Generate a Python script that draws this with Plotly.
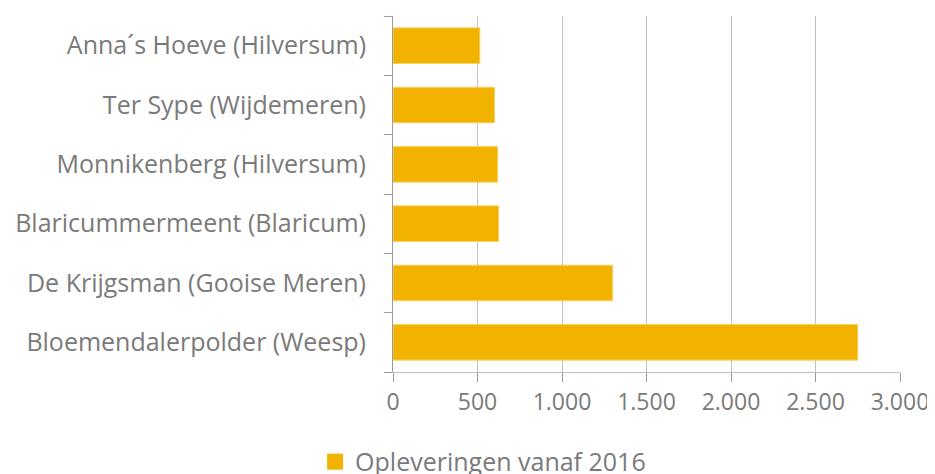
import plotly.graph_objects as go

categories = [
    "Bloemendalerpolder (Weesp)",
    "De Krijgsman (Gooise Meren)",
    "Blaricummermeent (Blaricum)",
    "Monnikenberg (Hilversum)",
    "Ter Sype (Wijdemeren)",
    "Anna´s Hoeve (Hilversum)",
]
values = [2750, 1300, 625, 619, 601, 514]
series_name = "Opleveringen vanaf 2016"
tick_vals = [0, 500, 1000, 1500, 2000, 2500, 3000]
tick_text = ["0", "500", "1.000", "1.500", "2.000", "2.500", "3.000"]

FONT = "Open Sans"
GREY = "#7a7a7a"
BAR = "#F1B300"

fig = go.Figure()
fig.add_trace(
    go.Bar(
        x=values,
        y=categories,
        orientation="h",
        name=series_name,
        marker=dict(color=BAR, line=dict(color="#F6D36A", width=1)),
        showlegend=False,
    )
)
# legend entry with a larger square swatch
fig.add_trace(
    go.Scatter(
        x=[None],
        y=[None],
        mode="markers",
        name=series_name,
        marker=dict(symbol="square", size=17, color=BAR),
        showlegend=True,
    )
)

fig.update_layout(
    width=927,
    height=466,
    margin=dict(l=385, r=35, t=8, b=102, autoexpand=False),
    paper_bgcolor="white",
    plot_bgcolor="white",
    bargap=0.40,
    font=dict(family=FONT, size=20, color=GREY),
    legend=dict(
        orientation="h",
        xref="container",
        yref="container",
        x=0.5125,
        xanchor="center",
        y=0.026,
        yanchor="middle",
        font=dict(family=FONT, size=25, color=GREY),
        itemsizing="trace",
        itemwidth=30,
    ),
    xaxis=dict(
        range=[0, 3000],
        tickvals=tick_vals,
        ticktext=tick_text,
        showgrid=True,
        gridcolor="#BFBFBF",
        gridwidth=1,
        zeroline=False,
        showline=True,
        linecolor="#BFBFBF",
        ticks="outside",
        ticklen=9,
        tickcolor="#9a9a9a",
        tickfont=dict(family=FONT, size=23, color=GREY),
        automargin=False,
        fixedrange=True,
    ),
    yaxis=dict(
        categoryorder="array",
        categoryarray=categories,
        showline=True,
        linecolor="#9a9a9a",
        linewidth=1,
        ticks="outside",
        tickson="boundaries",
        ticklen=8,
        tickcolor="#9a9a9a",
        ticklabelstandoff=21,
        tickfont=dict(family=FONT, size=25, color=GREY),
        showgrid=False,
        automargin=False,
        fixedrange=True,
    ),
)

fig.write_html("out.html")
